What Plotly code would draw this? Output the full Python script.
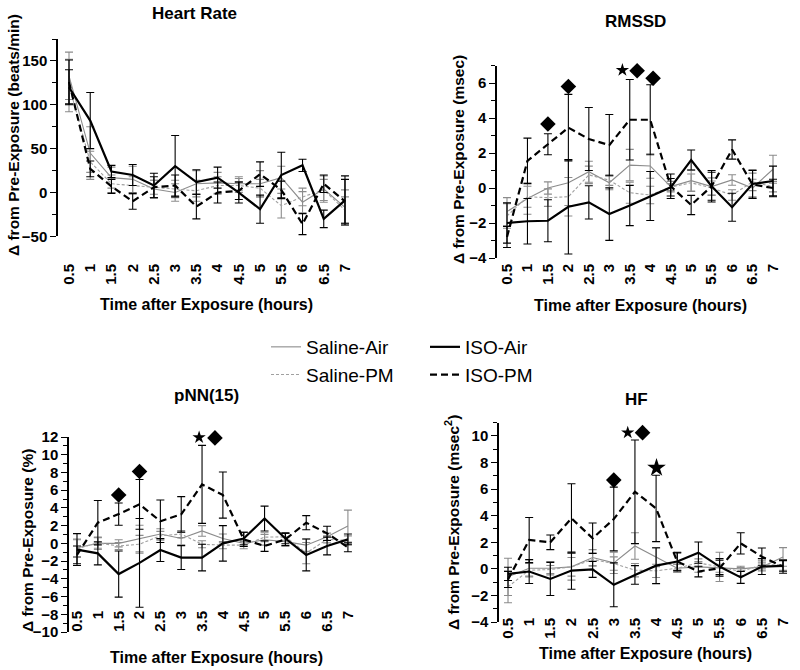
import plotly.graph_objects as go

# ---------------- data ----------------
x_hours = [0.5, 1, 1.5, 2, 2.5, 3, 3.5, 4, 4.5, 5, 5.5, 6, 6.5, 7]
x_tick_labels = ["0.5", "1", "1.5", "2", "2.5", "3", "3.5", "4", "4.5", "5", "5.5", "6", "6.5", "7"]
series_names = ["Saline-Air", "Saline-PM", "ISO-Air", "ISO-PM"]

# Heart Rate (beats/min)
hr_saline_air = [133, 45, 17, 15, 4, 0, 10, 11, 10, 10, 17, -11, 4, -17]
hr_saline_air_err = [27, 30, 12, 15, 10, 10, 15, 12, 8, 15, 13, 12, 15, 20]
hr_saline_pm = [122, 35, 10, 8, 6, 4, 2, 8, 8, 5, -15, -5, 3, -20]
hr_saline_pm_err = [30, 12, 10, 10, 8, 10, 12, 10, 8, 10, 14, 10, 12, 15]
hr_iso_air = [120, 82, 24, 20, 8, 30, 12, 17, 0, -19, 20, 31, -30, -9]
hr_iso_air_err = [20, 32, 7, 12, 14, 35, 14, 12, 12, 16, 26, 7, 10, 28]
hr_iso_pm = [126, 27, 7, -10, 6, 8, -16, 0, 2, 21, 3, -36, 10, -10]
hr_iso_pm_err = [25, 9, 8, 9, 12, 12, 14, 12, 10, 14, 10, 12, 10, 25]
hr_diamond_x = [6]
hr_diamond_y = [-57]
hr_star_x = []
hr_star_y = []

# RMSSD (msec)
rm_saline_air = [-1.35, -0.6, 0.0, 0.3, 0.93, 0.3, 1.31, 1.26, 0.08, 0.42, 0.08, 0.46, 0.0, 1.07]
rm_saline_air_err = [0.8, 0.9, 0.35, 1.3, 0.6, 0.4, 0.9, 0.7, 0.3, 0.6, 0.5, 0.3, 0.5, 0.8]
rm_saline_pm = [-1.6, -0.5, -0.55, -0.5, 0.75, 0.45, -0.27, -0.4, 0.05, 0.3, 0.0, -0.4, 0.35, 0.08]
rm_saline_pm_err = [0.7, 0.6, 0.5, 1.1, 0.5, 0.3, 0.6, 0.5, 0.2, 0.5, 0.4, 0.3, 0.5, 0.3]
rm_iso_air = [-2.0, -1.9, -1.87, -1.07, -0.82, -1.49, -1.0, -0.46, 0.04, 1.6, 0.1, -1.1, 0.23, 0.4]
rm_iso_air_err = [1.15, 1.3, 1.2, 2.7, 0.95, 1.5, 1.15, 1.4, 0.5, 0.57, 0.9, 0.8, 0.8, 0.85]
rm_iso_pm = [-2.8, 1.55, 2.5, 3.45, 2.8, 2.45, 3.9, 3.9, 0.1, -0.97, 0.1, 2.2, 0.2, 0.0]
rm_iso_pm_err = [0.6, 1.3, 0.6, 1.9, 1.8, 1.75, 2.3, 2.0, 0.7, 0.55, 0.8, 0.55, 0.8, 0.5]
rm_diamond_x = [1.5, 2, 3.68, 4.07]
rm_diamond_y = [3.66, 5.8, 6.7, 6.27]
rm_star_x = [3.32]
rm_star_y = [6.74]

# pNN(15) (%)
pn_saline_air = [-0.5, 0.0, 0.0, 0.55, 1.05, 0.55, 1.4, 0.55, 0.0, 0.4, 0.2, -0.2, 0.75, 1.95]
pn_saline_air_err = [1.0, 0.7, 0.4, 1.5, 0.6, 0.7, 0.6, 0.5, 0.3, 0.6, 0.5, 0.7, 0.4, 1.8]
pn_saline_pm = [-0.6, 0.05, -0.3, -0.1, 0.85, 1.05, -0.1, -0.2, -0.2, 0.7, 0.75, -1.1, 0.45, 0.35]
pn_saline_pm_err = [1.0, 0.6, 0.4, 1.0, 0.5, 0.4, 0.4, 0.4, 0.4, 0.5, 0.4, 1.2, 0.4, 0.5]
pn_iso_air = [-0.7, -1.13, -3.46, -2.2, -0.75, -1.6, -1.6, 0.0, 0.55, 2.8, 0.55, -1.3, -0.3, 0.45]
pn_iso_air_err = [1.8, 1.3, 2.6, 5.0, 1.3, 1.35, 1.5, 2.0, 0.7, 1.4, 0.6, 1.8, 1.0, 0.6]
pn_iso_pm = [-1.3, 2.33, 3.3, 4.4, 2.5, 3.27, 6.65, 5.45, 0.45, -0.3, 0.45, 2.33, 1.13, -0.45]
pn_iso_pm_err = [1.0, 2.5, 1.25, 2.8, 2.4, 2.0, 4.4, 2.6, 0.8, 0.6, 0.7, 0.8, 0.8, 0.5]
pn_diamond_x = [1.5, 2, 3.81]
pn_diamond_y = [5.45, 8.1, 11.9]
pn_star_x = [3.43]
pn_star_y = [11.95]

# HF (msec^2)
hf_saline_air = [-0.6, 0.05, 0.05, 0.15, 0.85, 0.45, 1.72, 0.87, 0.05, 0.15, 0.05, 0.0, 0.15, 0.9]
hf_saline_air_err = [1.4, 0.6, 0.5, 1.0, 0.6, 0.8, 1.0, 0.7, 0.3, 0.4, 0.3, 0.2, 0.3, 0.7]
hf_saline_pm = [-1.35, -0.1, -0.05, 0.15, 0.7, 0.4, -0.1, -0.15, 0.05, 0.45, 0.15, -0.2, 0.3, 0.3]
hf_saline_pm_err = [1.2, 0.5, 0.3, 0.7, 0.5, 0.5, 0.5, 0.5, 0.3, 0.3, 1.1, 0.3, 0.3, 0.4]
hf_iso_air = [-0.38, -0.2, -0.76, -0.13, -0.04, -1.2, -0.46, 0.24, 0.55, 1.22, 0.17, -0.64, 0.17, 0.22]
hf_iso_air_err = [0.5, 0.9, 1.25, 1.4, 0.6, 1.65, 0.7, 1.35, 0.7, 0.8, 0.6, 0.45, 0.6, 0.4]
hf_iso_pm = [-0.8, 2.17, 2.0, 3.8, 2.3, 3.75, 5.8, 4.55, 0.55, -0.2, 0.05, 1.92, 0.92, 0.17]
hf_iso_pm_err = [0.6, 1.7, 0.55, 2.6, 1.15, 2.4, 3.9, 2.5, 0.65, 0.4, 0.6, 0.8, 0.65, 0.5]
hf_diamond_x = [3, 3.68]
hf_diamond_y = [6.68, 10.25]
hf_star_x = [3.33]
hf_star_y = [10.25]
hf_bigstar_x = [4.01]
hf_bigstar_y = [7.6]

# ---------------- styling / layout ----------------
W, H = 800, 670
FONT = "Liberation Sans, Arial, sans-serif"


def px(x):
    return x / W


def py(y):
    return 1 - y / H


styles = {
    "Saline-Air": dict(color="#8c8c8c", width=1.1, dash="solid", err="#8c8c8c", legend="legend"),
    "Saline-PM": dict(color="#a0a0a0", width=1.1, dash="3px,2px", err="#8c8c8c", legend="legend"),
    "ISO-Air": dict(color="black", width=2.2, dash="solid", err="black", legend="legend2"),
    "ISO-PM": dict(color="black", width=2.2, dash="7px,4px", err="black", legend="legend2"),
}

panels = [
    dict(title="<b>Heart Rate</b>", title_xy=(194, 13),
         ytitle="<b>Δ from Pre-Exposure (beats/min)</b>", ytitle_xy=(13, 135),
         xtitle_xy=(206, 304),
         xdom=(58, 355), ydom=(39, 236.4), xr=(0.241, 7.236), yr=(-50, 175),
         dtick=50, minor=25, tick0=0, label_pos=260,
         data=[(hr_saline_air, hr_saline_air_err), (hr_saline_pm, hr_saline_pm_err),
               (hr_iso_air, hr_iso_air_err), (hr_iso_pm, hr_iso_pm_err)],
         diamonds=(hr_diamond_x, hr_diamond_y), stars=(hr_star_x, hr_star_y), bigstars=([], [])),
    dict(title="<b>RMSSD</b>", title_xy=(635, 21),
         ytitle="<b>Δ from Pre-Exposure (msec)</b>", ytitle_xy=(458, 160),
         xtitle_xy=(640, 305),
         xdom=(497, 787), ydom=(65.5, 258), xr=(0.256, 7.342), yr=(-4, 7),
         dtick=2, minor=1, tick0=0, label_pos=260,
         data=[(rm_saline_air, rm_saline_air_err), (rm_saline_pm, rm_saline_pm_err),
               (rm_iso_air, rm_iso_air_err), (rm_iso_pm, rm_iso_pm_err)],
         diamonds=(rm_diamond_x, rm_diamond_y), stars=(rm_star_x, rm_star_y), bigstars=([], [])),
    dict(title="<b>pNN(15)</b>", title_xy=(206, 395),
         ytitle="<b>Δ from Pre-Exposure (%)</b>", ytitle_xy=(27, 541),
         xtitle_xy=(216, 657),
         xdom=(69, 365), ydom=(437, 632), xr=(0.308, 7.41), yr=(-10, 12),
         dtick=2, minor=1, tick0=0, label_pos=607,
         data=[(pn_saline_air, pn_saline_air_err), (pn_saline_pm, pn_saline_pm_err),
               (pn_iso_air, pn_iso_air_err), (pn_iso_pm, pn_iso_pm_err)],
         diamonds=(pn_diamond_x, pn_diamond_y), stars=(pn_star_x, pn_star_y), bigstars=([], [])),
    dict(title="<b>HF</b>", title_xy=(636, 400),
         ytitle="<b>Δ from Pre-Exposure (msec<sup>2</sup>)</b>", ytitle_xy=(452, 522),
         xtitle_xy=(645, 653),
         xdom=(499, 793), ydom=(422.7, 622), xr=(0.287, 7.236), yr=(-4, 11),
         dtick=2, minor=1, tick0=0, label_pos=614,
         data=[(hf_saline_air, hf_saline_air_err), (hf_saline_pm, hf_saline_pm_err),
               (hf_iso_air, hf_iso_air_err), (hf_iso_pm, hf_iso_pm_err)],
         diamonds=(hf_diamond_x, hf_diamond_y), stars=(hf_star_x, hf_star_y),
         bigstars=(hf_bigstar_x, hf_bigstar_y)),
]

fig = go.Figure()
layout = {}
annotations = []

for i, p in enumerate(panels, start=1):
    xa = "x" if i == 1 else f"x{i}"
    ya = "y" if i == 1 else f"y{i}"
    xname = "xaxis" if i == 1 else f"xaxis{i}"
    yname = "yaxis" if i == 1 else f"yaxis{i}"
    zname = f"xaxis{i + 4}"

    xd = [px(p["xdom"][0]), px(p["xdom"][1])]
    yd = [py(p["ydom"][1]), py(p["ydom"][0])]
    zero_pos = yd[0] + (0 - p["yr"][0]) / (p["yr"][1] - p["yr"][0]) * (yd[1] - yd[0])

    for name, (vals, errs) in zip(series_names, p["data"]):
        s = styles[name]
        fig.add_trace(go.Scatter(
            x=x_hours, y=vals, mode="lines", name=name,
            line=dict(color=s["color"], width=s["width"], dash=s["dash"]),
            error_y=dict(type="data", array=errs, visible=True, color=s["err"],
                         thickness=1.1, width=4),
            xaxis=xa, yaxis=ya, legend=s["legend"], showlegend=(i == 1),
            legendgroup=name,
        ))

    for (mx, my), sym, size in [(p["diamonds"], "diamond", 12), (p["stars"], "star", 10),
                                (p["bigstars"], "star", 14)]:
        if mx:
            fig.add_trace(go.Scatter(
                x=mx, y=my, mode="markers", showlegend=False, cliponaxis=False,
                marker=dict(symbol=sym, size=size, color="black", line=dict(width=0)),
                xaxis=xa, yaxis=ya, hoverinfo="skip",
            ))

    # label axis (tick labels below the plot)
    layout[xname] = dict(
        domain=xd, range=list(p["xr"]), anchor="free", position=py(p["label_pos"]),
        tickmode="array", tickvals=x_hours, ticktext=x_tick_labels, tickangle=-90,
        showline=False, ticks="", showgrid=False, zeroline=False,
        tickfont=dict(family=FONT, size=15, color="black", weight="bold"),
    )
    # zero-line axis with tick marks
    layout[zname] = dict(
        domain=xd, range=list(p["xr"]), anchor="free", position=zero_pos,
        overlaying=xa, tickmode="array", tickvals=x_hours, showticklabels=False,
        showline=True, linecolor="black", linewidth=1.3, ticks="outside", ticklen=5,
        tickwidth=1, tickcolor="black", showgrid=False, zeroline=False,
    )
    layout[yname] = dict(
        domain=yd, range=list(p["yr"]), anchor=xa, showline=True, linecolor="black",
        linewidth=1.5, ticks="outside", ticklen=6, tickwidth=1.3, tickcolor="black",
        dtick=p["dtick"], tick0=p["tick0"], showgrid=False, zeroline=False,
        minor=dict(dtick=p["minor"], ticks="outside", ticklen=4, tickwidth=1,
                   tickcolor="black", showgrid=False),
        tickfont=dict(family=FONT, size=15, color="black", weight="bold"),
    )

    annotations.append(dict(text=p["title"], x=px(p["title_xy"][0]), y=py(p["title_xy"][1]),
                            xref="paper", yref="paper", showarrow=False,
                            xanchor="center", yanchor="middle",
                            font=dict(family=FONT, size=17, color="black")))
    annotations.append(dict(text=p["ytitle"], x=px(p["ytitle_xy"][0]), y=py(p["ytitle_xy"][1]),
                            xref="paper", yref="paper", showarrow=False, textangle=-90,
                            xanchor="center", yanchor="middle",
                            font=dict(family=FONT, size=15.5, color="black")))
    annotations.append(dict(text="<b>Time after Exposure (hours)</b>",
                            x=px(p["xtitle_xy"][0]), y=py(p["xtitle_xy"][1]),
                            xref="paper", yref="paper", showarrow=False,
                            xanchor="center", yanchor="middle",
                            font=dict(family=FONT, size=16, color="black")))

legend_font = dict(family=FONT, size=19, color="black")
fig.update_layout(
    width=W, height=H, margin=dict(l=0, r=0, t=0, b=0, pad=0, autoexpand=False),
    paper_bgcolor="white", plot_bgcolor="white",
    annotations=annotations,
    legend=dict(x=px(266), y=py(328), xanchor="left", yanchor="top", font=legend_font,
                bgcolor="rgba(0,0,0,0)", itemwidth=30, tracegroupgap=0),
    legend2=dict(x=px(425), y=py(328), xanchor="left", yanchor="top", font=legend_font,
                 bgcolor="rgba(0,0,0,0)", itemwidth=30, tracegroupgap=0),
    **layout,
)

fig.write_html(
    "out.html",
    config={"displayModeBar": False},
    post_script="document.body.style.margin='0';document.body.style.overflow='hidden';",
)
